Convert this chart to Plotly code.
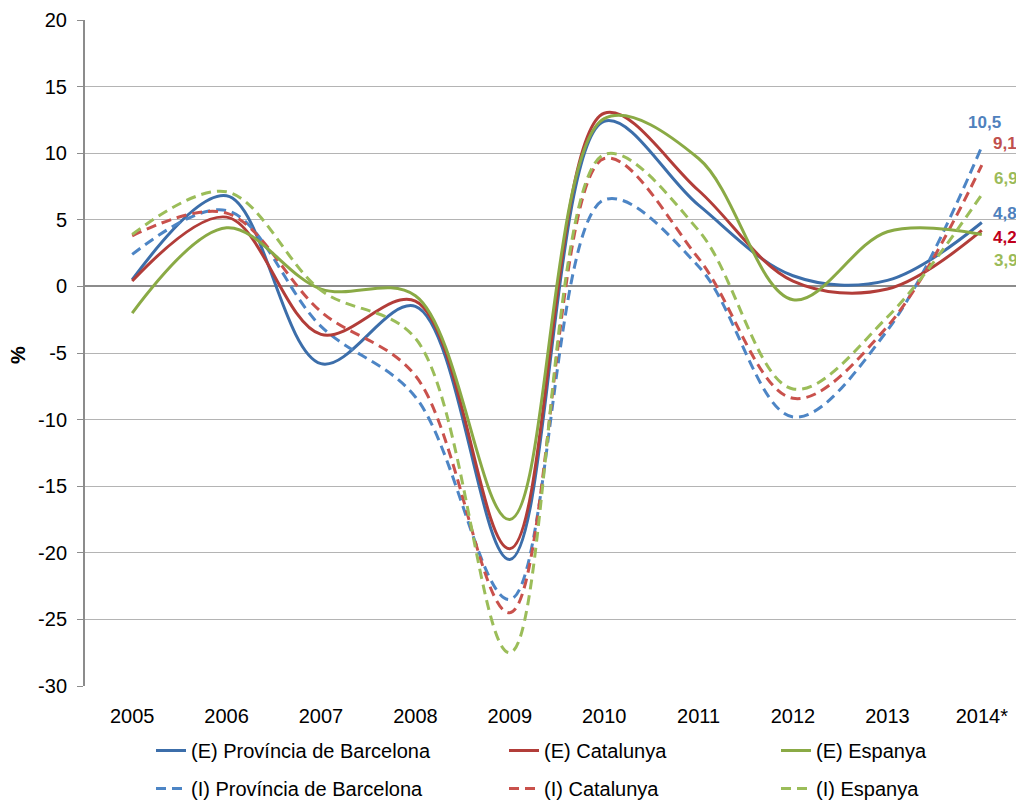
import plotly.graph_objects as go

years = ["2005", "2006", "2007", "2008", "2009", "2010", "2011", "2012", "2013", "2014*"]

e_bcn = [0.5, 6.8, -5.8, -1.5, -20.5, 12.4, 6.1, 0.8, 0.45, 4.8]
e_cat = [0.4, 5.2, -3.6, -1.1, -19.7, 13.0, 7.2, 0.4, -0.2, 4.2]
e_esp = [-2.0, 4.4, -0.2, -0.7, -17.5, 12.6, 9.6, -1.0, 4.1, 3.9]
i_bcn = [2.4, 5.7, -3.0, -8.3, -23.5, 6.5, 1.5, -9.8, -3.3, 10.5]
i_cat = [3.8, 5.5, -1.9, -6.7, -24.5, 9.6, 2.1, -8.4, -3.0, 9.1]
i_esp = [3.9, 7.1, -0.3, -3.9, -27.5, 9.9, 4.2, -7.7, -2.3, 6.9]

y_ticks = [20, 15, 10, 5, 0, -5, -10, -15, -20, -25, -30]
y_tick_text = [str(v) for v in y_ticks]

FONT = "Liberation Sans, Arial, sans-serif"
FS = 20
x_idx = list(range(len(years)))

series = [
    ("(E) Província de Barcelona", e_bcn, "#3C6EAA", "solid", "legend"),
    ("(I) Província de Barcelona", i_bcn, "#4D85C5", "10px,6px", "legend"),
    ("(E) Catalunya", e_cat, "#B23D39", "solid", "legend2"),
    ("(I) Catalunya", i_cat, "#C9514C", "10px,6px", "legend2"),
    ("(E) Espanya", e_esp, "#8AAA45", "solid", "legend3"),
    ("(I) Espanya", i_esp, "#9BBD59", "10px,6px", "legend3"),
]

fig = go.Figure()
for name, vals, color, dash, leg in series:
    fig.add_trace(go.Scatter(
        x=x_idx, y=vals, name=name, mode="lines",
        line=dict(color=color, width=3, dash=dash, shape="spline", smoothing=1.0),
        legend=leg, legendgroup=name, hoverinfo="skip",
    ))

end_labels = [
    (i_bcn[-1], "#4F81BD", "center", 3, 24),
    (i_cat[-1], "#C0504D", "left", 9, 22),
    (i_esp[-1], "#9BBB59", "left", 10, 16),
    (e_bcn[-1], "#4F81BD", "left", 9, 9),
    (e_cat[-1], "#C0001C", "left", 9, -7),
    (e_esp[-1], "#9BBB59", "left", 10, -26),
]
annotations = []
for val, color, xa, xs, ys in end_labels:
    annotations.append(dict(
        x=x_idx[-1], y=val, xref="x", yref="y",
        text="<b>" + f"{val:.1f}".replace(".", ",") + "</b>",
        showarrow=False, xanchor=xa, yanchor="middle",
        xshift=xs, yshift=ys,
        font=dict(family=FONT, size=17, color=color),
    ))
annotations.append(dict(
    x=(18 - 85) / 939, y=(686 - 355) / 666, xref="paper", yref="paper", text="<b>%</b>",
    showarrow=False, textangle=-90, xanchor="center", yanchor="middle",
    font=dict(family=FONT, size=FS, color="#000000"),
))

xr = [-0.5, -0.5 + 939 / 94.4]

leg_common = dict(
    orientation="v", xanchor="left", yanchor="top",
    font=dict(family=FONT, size=FS, color="#000000"),
    bgcolor="rgba(0,0,0,0)", tracegroupgap=9, itemwidth=30,
)
leg_y = -(731 - 686) / 666

# page body adds an 8px margin, so the figure is kept smaller than the window
fig.update_layout(
    width=1016, height=796,
    margin=dict(l=77, r=0, t=12, b=118, autoexpand=False),
    paper_bgcolor="white", plot_bgcolor="white",
    font=dict(family=FONT, size=FS, color="#000000"),
    showlegend=True,
    legend=dict(x=(151 - 85) / 939, y=leg_y, **leg_common),
    legend2=dict(x=(504 - 85) / 939, y=leg_y, **leg_common),
    legend3=dict(x=(776 - 85) / 939, y=leg_y, **leg_common),
    annotations=annotations,
    xaxis=dict(
        range=xr, tickmode="array", tickvals=x_idx, ticktext=years,
        showgrid=False, zeroline=False, showline=False, automargin=False,
        ticks="outside", ticklen=12, tickcolor="rgba(0,0,0,0)",
        tickfont=dict(family=FONT, size=FS, color="#000000"),
    ),
    xaxis2=dict(
        overlaying="x", anchor="free", position=0.6, side="bottom",
        range=xr, tickmode="array", tickvals=[k + 0.5 for k in range(9)],
        showticklabels=False, showgrid=False, zeroline=False, showline=False,
        automargin=False,
        ticks="outside", ticklen=6, tickwidth=1.3, tickcolor="#8C8C8C",
    ),
    yaxis=dict(
        range=[-30, 20], tickmode="array", tickvals=y_ticks, ticktext=y_tick_text,
        showgrid=True, gridcolor="#B4B4B4", gridwidth=1.3,
        zeroline=True, zerolinecolor="#8C8C8C", zerolinewidth=2.2,
        showline=True, linecolor="#8C8C8C", linewidth=2, automargin=False,
        ticks="outside", ticklen=6, tickcolor="#8C8C8C", tickwidth=1.3,
        tickfont=dict(family=FONT, size=FS, color="#000000"),
        ticklabelstandoff=6,
    ),
)

fig.write_html("out.html")
